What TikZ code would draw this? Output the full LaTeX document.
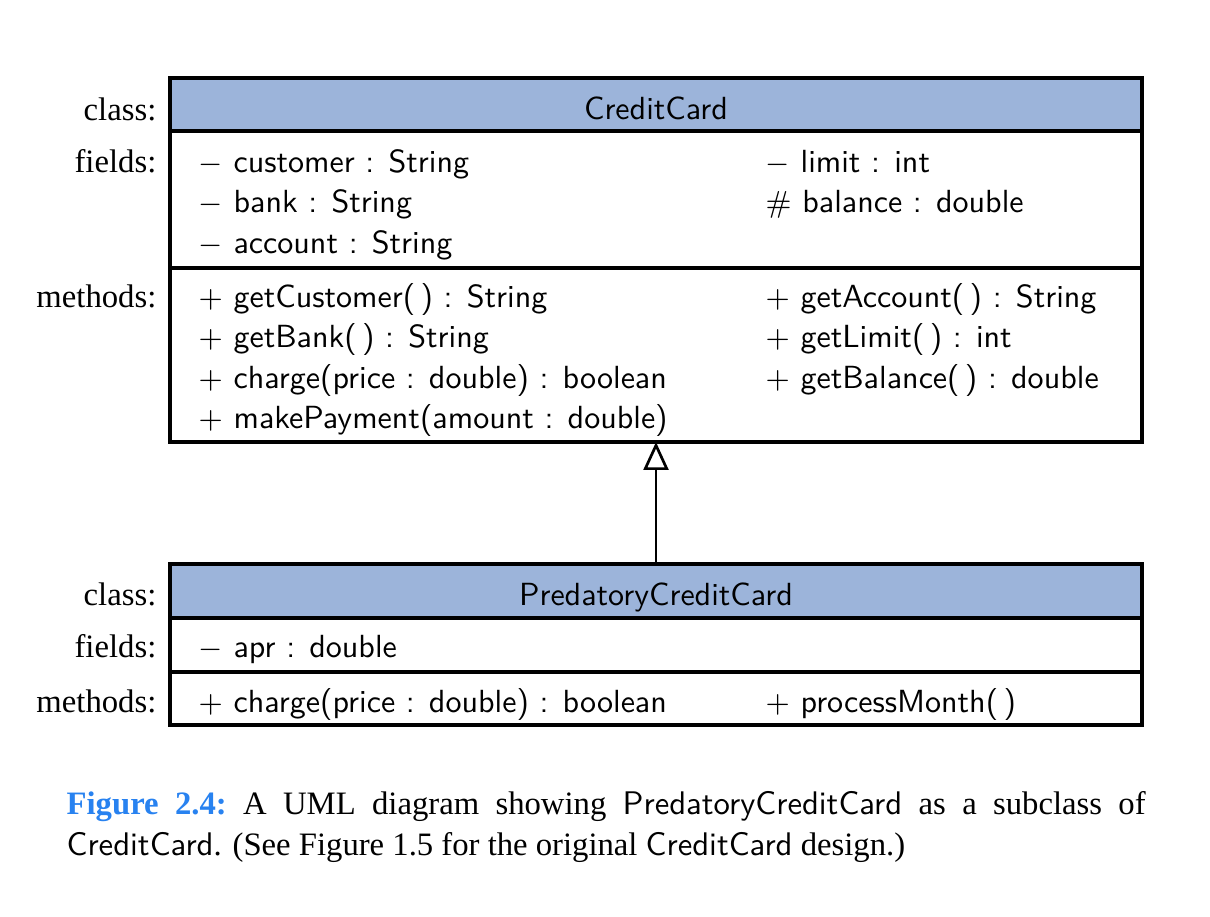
\documentclass[tikz,border=0pt]{standalone}
\usepackage[no-math]{fontspec}
\setmainfont{Liberation Serif}
\usetikzlibrary{arrows.meta}
\definecolor{headblue}{RGB}{156,180,218}
\definecolor{capblue}{RGB}{40,130,240}
\newcommand{\pxu}{0.2967pt}
\tikzset{
	compartment/.style={draw,line width=0.95pt,outer sep=0pt,inner sep=0pt,minimum width=972*\pxu},
	classhead/.style={compartment,fill=headblue,font=\sffamily\fontsize{9.5}{11}\selectfont,text height=10pt,text depth=1.2pt},
	member/.style={anchor=base west,inner sep=0pt,font=\sffamily\fontsize{9.5}{11}\selectfont},
	rowlabel/.style={anchor=base east,inner sep=0pt,font=\fontsize{9.7}{11}\selectfont},
	inherits/.style={-{Triangle[open,width=7.4pt,length=8.3pt]},line width=0.8pt}
}
\begin{document}
\begin{tikzpicture}[x=\pxu,y=-\pxu]
		\useasboundingbox (0,0) rectangle (1210,916);
		% CreditCard
		\node[classhead,minimum height=53*\pxu] (cc) at (656,104.5) {CreditCard};
		\node[compartment,minimum height=137*\pxu] (ccf) at (656,199.5) {};
		\node[compartment,minimum height=174*\pxu] (ccm) at (656,355) {};
		\node[rowlabel] (lcc) at (157,120) {class:};
		\node[rowlabel] (lccf) at (157,172) {fields:};
		\node[rowlabel] (lccm) at (157,307) {methods:};
		\node[member] (f1) at (198,172) {$-$ customer : String};
		\node[member] (f2) at (198,212.5) {$-$ bank : String};
		\node[member] (f3) at (198,253) {$-$ account : String};
		\node[member] (f4) at (765,172) {$-$ limit : int};
		\node[member] (f5) at (765,212.5) {$\#$ balance : double};
		\node[member] (m1) at (198,307) {$+$ getCustomer(\,) : String};
		\node[member] (m2) at (198,347.5) {$+$ getBank(\,) : String};
		\node[member] (m3) at (198,388) {$+$ charge(price : double) : boolean};
		\node[member] (m4) at (198,428) {$+$ makePayment(amount : double)};
		\node[member] (m5) at (765,307) {$+$ getAccount(\,) : String};
		\node[member] (m6) at (765,347.5) {$+$ getLimit(\,) : int};
		\node[member] (m7) at (765,388) {$+$ getBalance(\,) : double};
		% PredatoryCreditCard
		\node[classhead,minimum height=54*\pxu] (pcc) at (656,591) {PredatoryCreditCard};
		\node[compartment,minimum height=54*\pxu] (pccf) at (656,645) {};
		\node[compartment,minimum height=53*\pxu] (pccm) at (656,698.5) {};
		\node[rowlabel] (lpcc) at (157,605) {class:};
		\node[rowlabel] (lpccf) at (157,657) {fields:};
		\node[rowlabel] (lpccm) at (157,712) {methods:};
		\node[member] (pf1) at (198,657) {$-$ apr : double};
		\node[member] (pm1) at (198,712) {$+$ charge(price : double) : boolean};
		\node[member] (pm2) at (765,712) {$+$ processMonth(\,)};
		\draw[inherits] (pcc.north) -- (ccm.south);
		% caption
		\node[anchor=north west,inner sep=0pt,text width=1079*\pxu,align=justify,font=\fontsize{9.7}{12}\selectfont] (cap) at (66,791) {\textcolor{capblue}{\textbf{Figure 2.4:}}\enspace A UML diagram showing \textsf{PredatoryCreditCard} as a subclass of\linebreak \textsf{CreditCard}. (See Figure 1.5 for the original \textsf{CreditCard} design.)};
\end{tikzpicture}
\end{document}
